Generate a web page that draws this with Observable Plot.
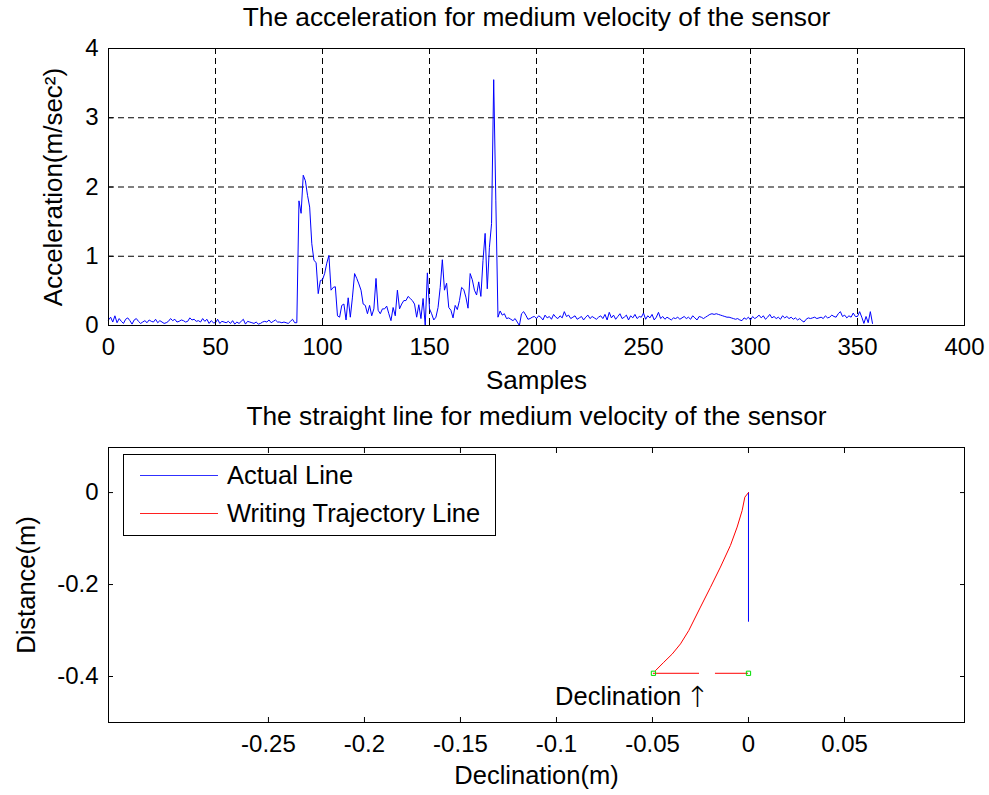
<!DOCTYPE html>
<html>
<head>
<meta charset="utf-8">
<script src="https://cdn.jsdelivr.net/npm/d3@7"></script>
<script src="https://cdn.jsdelivr.net/npm/@observablehq/plot@0.6"></script>
<style>
  html, body { margin: 0; padding: 0; background: #fff; }
  #root { position: relative; width: 989px; height: 795px; background: #fff; font-family: "Liberation Sans", Arial, sans-serif; }
  #top, #bottom { position: absolute; left: 0; }
  #top { top: 0; }
  #bottom { top: 400px; }
  #legend { position: absolute; left: 123px; top: 454px; width: 371px; height: 80px; border: 1px solid #000; background: #fff; }
  .lg-row { position: absolute; left: 0; height: 30px; width: 100%; }
  .lg-line { position: absolute; left: 16px; width: 78px; height: 1px; top: 15px; }
  .lg-text { position: absolute; left: 103px; top: 0; line-height: 30px; font-size: 25.5px; color: #000; white-space: nowrap; }
</style>
</head>
<body>
<div id="root">
  <div id="top"></div>
  <div id="bottom"></div>
  <div id="legend"></div>
</div>
<script>
// ---------- Data: top chart (acceleration per sample) ----------
const topTitle = "The acceleration for medium velocity of the sensor";
const topXLabel = "Samples";
const topYLabel = "Acceleration(m/sec²)";
const topXTicks = [0, 50, 100, 150, 200, 250, 300, 350, 400];
const topYTicks = [0, 1, 2, 3, 4];

const accelQuiet1 = [
  0.08,0.12,0.05,0.14,0.04,0.10,0.06,0.03,0.09,0.11,
  0.07,0.02,0.08,0.10,0.06,0.03,0.05,0.07,0.04,0.08,
  0.06,0.05,0.09,0.04,0.07,0.05,0.03,0.04,0.06,0.10,
  0.07,0.09,0.05,0.06,0.08,0.07,0.05,0.06,0.11,0.08,
  0.09,0.06,0.07,0.05,0.10,0.06,0.09,0.03,0.07,0.04,
  0.04,0.09,0.03,0.06,0.05,0.04,0.06,0.03,0.07,0.02,
  0.05,0.03,0.06,0.09,0.02,0.06,0.05,0.04,0.03,0.05,
  0.02,0.03,0.05,0.06,0.05,0.08,0.04,0.06,0.08,0.05,
  0.05,0.04,0.05,0.04,0.03,0.06,0.09,0.04,0.04
];
const accelActive = [
  1.80,1.62,2.17,2.09,1.88,1.71,1.18,0.94,0.91,0.46,   // 89-98
  0.65,0.66,0.75,0.90,1.01,0.51,0.55,0.56,0.14,0.12,   // 99-108
  0.29,0.31,0.08,0.40,0.12,0.41,0.75,0.68,0.60,0.51,   // 109-118
  0.31,0.29,0.17,0.29,0.14,0.24,0.68,0.22,0.17,0.24,   // 119-128
  0.24,0.28,0.17,0.07,0.26,0.14,0.51,0.24,0.31,0.36,   // 129-138
  0.36,0.42,0.39,0.36,0.31,0.12,0.30,0.10,0.39,0.00,   // 139-148
  0.76,0.24,0.17,0.08,0.12,0.26,0.55,0.95,0.51,0.61,   // 149-158
  0.26,0.22,0.11,0.29,0.23,0.36,0.55,0.52,0.41,0.25,   // 159-168
  0.75,0.66,0.51,0.44,0.63,0.42,0.94,1.33,0.53,1.13,   // 169-178
  1.47,3.55,1.80                                        // 179-181
];
const accelQuiet2 = [
  0.12,0.21,0.15,0.17,0.10,0.11,0.09,0.07,0.10,0.05,   // 182-191
  0.00,0.17,0.20,0.15,0.09,0.10,0.12,0.13,             // 192-199
  0.10,0.14,0.12,0.08,0.15,0.11,0.13,0.09,0.16,0.12,
  0.10,0.14,0.11,0.20,0.13,0.15,0.10,0.12,0.14,0.09,
  0.11,0.13,0.08,0.12,0.15,0.10,0.13,0.11,0.09,0.12,
  0.14,0.10,0.16,0.08,0.19,0.11,0.15,0.09,0.13,0.17,
  0.10,0.12,0.15,0.08,0.14,0.11,0.16,0.10,0.13,0.12,
  0.18,0.09,0.14,0.11,0.16,0.08,0.12,0.19,0.10,0.13,
  0.09,0.12,0.10,0.08,0.11,0.10,0.12,0.09,0.11,0.13,
  0.10,0.12,0.09,0.14,0.11,0.08,0.13,0.12,0.10,0.12,
  0.14,0.16,0.17,0.16,0.17,0.16,0.15,0.14,0.13,0.12,
  0.12,0.11,0.10,0.09,0.10,0.08,0.07,0.11,0.09,0.12,
  0.08,0.13,0.10,0.12,0.15,0.11,0.14,0.09,0.12,0.16,
  0.11,0.13,0.10,0.12,0.09,0.14,0.11,0.13,0.10,0.12,
  0.09,0.11,0.08,0.10,0.07,0.05,0.09,0.11,0.10,0.11,
  0.12,0.10,0.11,0.12,0.10,0.14,0.11,0.12,0.15,0.13,
  0.12,0.17,0.20,0.13,0.15,0.11,0.14,0.12,0.18,0.13,
  0.13,0.20,0.12,0.03,0.13,0.04,0.20,0.03            // 350-357
];
const accel = accelQuiet1.concat(accelActive, accelQuiet2);

// ---------- Data: bottom chart (straight line) ----------
const botTitle = "The straight line for medium velocity of the sensor";
const botXLabel = "Declination(m)";
const botYLabel = "Distance(m)";
const botXTicks = [-0.25, -0.2, -0.15, -0.1, -0.05, 0, 0.05];
const botYTicks = [0, -0.2, -0.4];
const actualX = [0, 0];
const actualY = [0, -0.28];
const trajX = [0, -0.0019, -0.0033, -0.0059, -0.0094, -0.0146, -0.0198, -0.025, -0.0311, -0.0354, -0.0397, -0.0441, -0.0484];
const trajY = [0, -0.010, -0.039, -0.075, -0.115, -0.162, -0.206, -0.249, -0.300, -0.329, -0.351, -0.369, -0.387];
const declSegX1 = [-0.0495, -0.0172];
const declSegX2 = [-0.0255, 0];
const declY = -0.393;
const declMarkX = [-0.0495, 0];
const declLabel = "Declination";
const declArrow = "↑";
const declLabelPos = [-0.0350, -0.445];
const declArrowPos = [-0.0266, -0.447];
const legendLabels = ["Actual Line", "Writing Trajectory Line"];
const legendColors = ["#3030ff", "#ff2020"];

const font = '"Liberation Sans", Arial, sans-serif';
const fmt = d => String(d);

// ---------- Top chart ----------
const topData = accel.map((v, i) => ({i, v}));
const topPlot = Plot.plot({
  width: 989, height: 400,
  marginLeft: 108, marginRight: 25, marginTop: 48, marginBottom: 75,
  x: {domain: [0, 400]},
  y: {domain: [0, 4]},
  style: {fontFamily: font, fontSize: "24px", color: "#000", background: "transparent", overflow: "visible"},
  marks: [
    Plot.gridX(topXTicks.slice(1, -1), {stroke: "#000", strokeOpacity: 1, strokeDasharray: "6,4"}),
    Plot.gridY(topYTicks.slice(1, -1), {stroke: "#000", strokeOpacity: 1, strokeDasharray: "6,4"}),
    Plot.line(topData, {x: "i", y: "v", stroke: "#0000ff", strokeWidth: 1}),
    Plot.frame({stroke: "#000"}),
    Plot.axisX(topXTicks, {anchor: "bottom", tickSize: -5, tickPadding: 17, tickFormat: fmt, label: null}),
    Plot.axisX(topXTicks, {anchor: "top", tickSize: -5, tickFormat: () => "", label: null}),
    Plot.axisY(topYTicks, {anchor: "left", tickSize: -5, tickPadding: 15, tickFormat: fmt, label: null}),
    Plot.axisY(topYTicks, {anchor: "right", tickSize: -5, tickFormat: () => "", label: null}),
    Plot.text([topTitle], {frameAnchor: "top", dy: -23, lineAnchor: "bottom", textAnchor: "middle", fontSize: 26.3}),
    Plot.text([topXLabel], {frameAnchor: "bottom", dy: 63, lineAnchor: "bottom", textAnchor: "middle", fontSize: 26}),
    Plot.text([topYLabel], {frameAnchor: "left", dx: -55, rotate: -90, lineAnchor: "middle", textAnchor: "middle", fontSize: 26})
  ]
});
document.getElementById("top").appendChild(topPlot);

// ---------- Bottom chart ----------
const actualData = actualX.map((x, k) => ({x, y: actualY[k]}));
const trajData = trajX.map((x, k) => ({x, y: trajY[k]}));
const segData = declSegX1.map((x1, k) => ({x1, x2: declSegX2[k], y: declY}));
const markData = declMarkX.map(x => ({x, y: declY}));
const botPlot = Plot.plot({
  width: 989, height: 395,
  marginLeft: 108, marginRight: 25, marginTop: 47, marginBottom: 73,
  x: {domain: [-0.3333, 0.1125]},
  y: {domain: [-0.5, 0.098]},
  style: {fontFamily: font, fontSize: "24px", color: "#000", background: "transparent", overflow: "visible"},
  marks: [
    Plot.line(actualData, {x: "x", y: "y", stroke: "#0000ff", strokeWidth: 1}),
    Plot.line(trajData, {x: "x", y: "y", stroke: "#ff0000", strokeWidth: 1}),
    Plot.ruleY(segData, {y: "y", x1: "x1", x2: "x2", stroke: "#ff0000", strokeWidth: 1}),
    Plot.dot(markData, {x: "x", y: "y", symbol: "square", r: 2.4, stroke: "#00dd00", fill: "none", strokeWidth: 1}),
    Plot.text([declLabel], {x: () => declLabelPos[0], y: () => declLabelPos[1], textAnchor: "end", fontSize: 25.5}),
    Plot.text([declArrow], {x: () => declArrowPos[0], y: () => declArrowPos[1], textAnchor: "middle", fontSize: 29, fontFamily: "DejaVu Sans", fontWeight: 200}),
    Plot.frame({stroke: "#000"}),
    Plot.axisX(botXTicks, {anchor: "bottom", tickSize: -5, tickPadding: 17, tickFormat: fmt, label: null}),
    Plot.axisX(botXTicks, {anchor: "top", tickSize: -5, tickFormat: () => "", label: null}),
    Plot.axisY(botYTicks, {anchor: "left", tickSize: -5, tickPadding: 15, tickFormat: fmt, label: null}),
    Plot.axisY(botYTicks, {anchor: "right", tickSize: -5, tickFormat: () => "", label: null}),
    Plot.text([botTitle], {frameAnchor: "top", dy: -23, lineAnchor: "bottom", textAnchor: "middle", fontSize: 26.3}),
    Plot.text([botXLabel], {frameAnchor: "bottom", dy: 61, lineAnchor: "bottom", textAnchor: "middle", fontSize: 25.5}),
    Plot.text([botYLabel], {frameAnchor: "left", dx: -82, rotate: -90, lineAnchor: "middle", textAnchor: "middle", fontSize: 25.5})
  ]
});
document.getElementById("bottom").appendChild(botPlot);

// ---------- Legend ----------
const legend = document.getElementById("legend");
legendLabels.forEach((lab, k) => {
  const row = document.createElement("div");
  row.className = "lg-row";
  row.style.top = (5 + k * 38) + "px";
  const ln = document.createElement("div");
  ln.className = "lg-line";
  ln.style.background = legendColors[k];
  const tx = document.createElement("div");
  tx.className = "lg-text";
  tx.textContent = lab;
  row.appendChild(ln);
  row.appendChild(tx);
  legend.appendChild(row);
});
</script>
</body>
</html>
